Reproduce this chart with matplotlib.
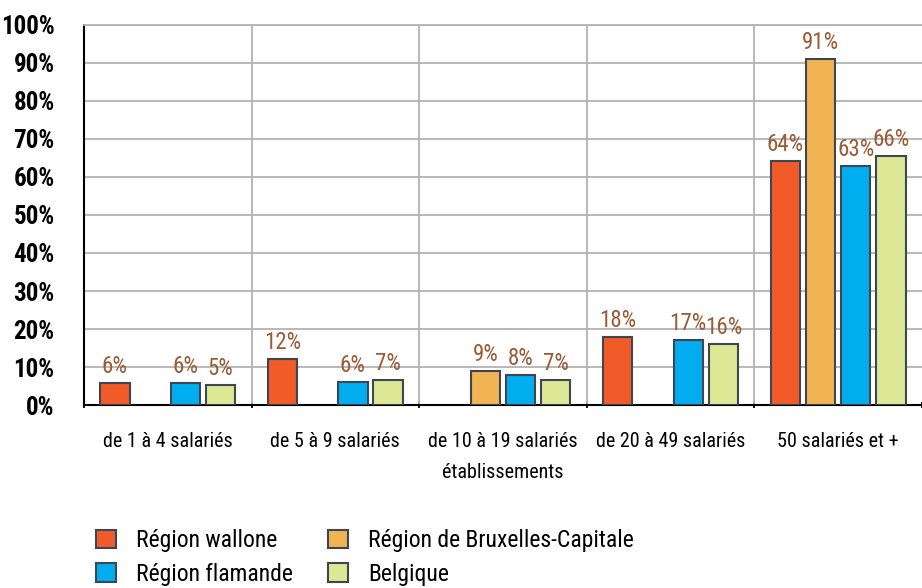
import numpy as np
import matplotlib
matplotlib.use("Agg")
import matplotlib.pyplot as plt
from matplotlib import font_manager
from matplotlib.font_manager import FontProperties

categories = ["de 1 à 4 salariés", "de 5 à 9 salariés",
              "de 10 à 19 salariés\nétablissements", "de 20 à 49 salariés",
              "50 salariés et +"]
series_names = ["Région wallone", "Région de Bruxelles-Capitale",
                "Région flamande", "Belgique"]
wallone = [5.8, 12.1, np.nan, 17.9, 64.2]
bruxelles = [np.nan, np.nan, 8.9, np.nan, 91.0]
flamande = [5.9, 6.2, 7.9, 17.1, 62.8]
belgique = [5.4, 6.7, 6.6, 16.0, 65.5]
labels = [
    ["6%", "12%", None, "18%", "64%"],
    [None, None, "9%", None, "91%"],
    ["6%", "6%", "8%", "17%", "63%"],
    ["5%", "7%", "7%", "16%", "66%"],
]
colors = ["#f15a29", "#f0b452", "#00adee", "#dce893"]


def find_narrow_font():
    # look for any installed condensed / narrow sans face
    found = {}
    for f in font_manager.fontManager.ttflist:
        key = (f.name + " " + f.fname).lower()
        if ("narrow" in key or "condensed" in key) and "mono" not in key \
                and "serif" not in f.name.lower():
            if "italic" in key or "oblique" in key or f.style != "normal":
                continue
            found.setdefault(f.name, []).append(f)
    if not found:
        return None
    order = ["Liberation Sans Narrow", "Roboto Condensed", "Open Sans Condensed",
             "DejaVu Sans", "Noto Sans"]
    names = sorted(found, key=lambda n: next((i for i, o in enumerate(order)
                                              if n.startswith(o)), 99))
    faces = found[names[0]]
    def wt(f):
        w = f.weight
        return int(w) if str(w).isdigit() else {"normal": 400, "regular": 400,
                                               "bold": 700, "medium": 500}.get(w, 400)
    reg = min(faces, key=lambda f: abs(wt(f) - 400))
    bold = min(faces, key=lambda f: abs(wt(f) - 700))
    return reg.fname, bold.fname


narrow = find_narrow_font()
if narrow:
    REG = FontProperties(fname=narrow[0])
    BOLD = FontProperties(fname=narrow[1])
    scale = 1.0
else:
    REG = FontProperties(family="DejaVu Sans")
    BOLD = FontProperties(family="DejaVu Sans", weight="bold")
    scale = 0.82


def fp(base, size):
    p = base.copy()
    p.set_size(size * scale)
    return p


fig = plt.figure(figsize=(9.22, 5.88), dpi=100)
ax = fig.add_axes([0.091, 0.311, 0.909, 0.647])

x = np.arange(len(categories))
width = 0.175
offsets = [-0.315, -0.105, 0.105, 0.315]
all_series = [wallone, bruxelles, flamande, belgique]

bar_handles = []
for i, vals in enumerate(all_series):
    vals = np.array(vals, dtype=float)
    bars = ax.bar(x + offsets[i], vals, width, color=colors[i],
                  edgecolor="#3d4652", linewidth=1.5, zorder=3,
                  label=series_names[i])
    bar_handles.append(bars)
    for j, b in enumerate(bars):
        if labels[i][j] is None:
            continue
        ax.text(b.get_x() + b.get_width() / 2, vals[j] + 1.3, labels[i][j],
                ha="center", va="bottom", color="#9b5b35",
                fontproperties=fp(REG, 16.5), zorder=4)

ax.set_xlim(-0.5, len(categories) - 0.5)
ax.set_ylim(0, 100)
ax.set_yticks(np.arange(0, 101, 10))
ax.set_yticklabels([f"{v}%" for v in range(0, 101, 10)])
for t in ax.get_yticklabels():
    t.set_fontproperties(fp(BOLD, 18))
ax.set_xticks(x)
ax.set_xticklabels(categories, va="top", linespacing=1.85)
for t in ax.get_xticklabels():
    t.set_fontproperties(fp(REG, 14.5))
ax.tick_params(axis="x", length=0, pad=19)
ax.tick_params(axis="y", length=0, pad=21)

# category boundaries: gridlines and small ticks
for b in np.arange(0.5, len(categories) - 0.5, 1.0):
    ax.axvline(b, color="#b3b3b3", linewidth=1.3, zorder=1)
ax.set_xticks(np.arange(-0.5, len(categories), 1.0), minor=True)
ax.tick_params(axis="x", which="minor", length=4, direction="inout",
               width=1.3, color="black")
ax.yaxis.grid(True, color="#b3b3b3", linewidth=1.3, zorder=1)
ax.set_axisbelow(True)

ax.spines["right"].set_visible(False)
ax.spines["top"].set_color("#b3b3b3")
ax.spines["top"].set_linewidth(1.3)
ax.spines["left"].set_linewidth(1.5)
ax.spines["bottom"].set_linewidth(1.5)

# legend: column 1 wallone / flamande, column 2 bruxelles / belgique
order = [0, 2, 1, 3]
fig.legend([bar_handles[k] for k in order], [series_names[k] for k in order],
           loc="upper left", bbox_to_anchor=(0.104, 0.100),
           borderpad=0, borderaxespad=0,
           ncol=2, frameon=False, prop=fp(REG, 17), handlelength=0.85,
           handleheight=0.85, columnspacing=1.5, handletextpad=0.85,
           labelspacing=0.45)

fig.savefig("out.png", dpi=100)
